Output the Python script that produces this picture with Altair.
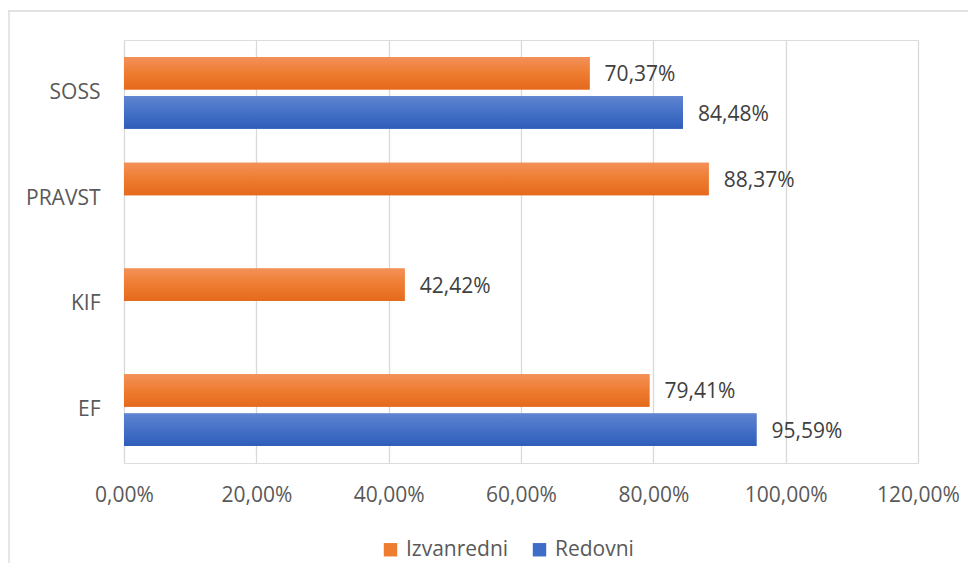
import altair as alt
import pandas as pd

categories = ["SOSS", "SOSS", "PRAVST", "KIF", "EF", "EF"]
series = ["Izvanredni", "Redovni", "Izvanredni", "Izvanredni", "Izvanredni", "Redovni"]
values = [0.7037, 0.8448, 0.8837, 0.4242, 0.7941, 0.9559]

cat_order = ["SOSS", "PRAVST", "KIF", "EF"]
series_order = ["Izvanredni", "Redovni"]
x_ticks = [0, 0.2, 0.4, 0.6, 0.8, 1.0, 1.2]

df = pd.DataFrame({"cat": categories, "series": series, "value": values})

FONT = "Open Sans"
FS = 21

orange_grad = alt.Gradient(
    gradient="linear", x1=0, x2=0, y1=0, y2=1,
    stops=[alt.GradientStop(color="#F39159", offset=0),
           alt.GradientStop(color="#EE7C30", offset=0.5),
           alt.GradientStop(color="#E5691C", offset=1)],
)
blue_grad = alt.Gradient(
    gradient="linear", x1=0, x2=0, y1=0, y2=1,
    stops=[alt.GradientStop(color="#5F84D0", offset=0),
           alt.GradientStop(color="#4470C6", offset=0.5),
           alt.GradientStop(color="#2E5DBA", offset=1)],
)

y_enc = alt.Y("cat:N", sort=cat_order,
              scale=alt.Scale(domain=cat_order, paddingInner=0.32, paddingOuter=0.16),
              axis=alt.Axis(title=None, domain=False, ticks=False, labelPadding=24,
                            labelFontSize=FS, labelColor="#595959", labelFont=FONT))
yoff_enc = alt.YOffset("series:N", sort=series_order,
                       scale=alt.Scale(domain=series_order, paddingInner=0.17, paddingOuter=0))
x_enc = alt.X("value:Q",
              scale=alt.Scale(domain=[0, 1.2], nice=False),
              axis=alt.Axis(title=None, values=x_ticks, domain=False, ticks=False,
                            grid=True, gridColor="#D9D9D9", gridWidth=1.3,
                            labelFlush=False,
                            labelPadding=21, labelFontSize=FS, labelColor="#595959",
                            labelFont=FONT,
                            labelExpr="replace(format(datum.value*100, '.2f'), '.', ',') + '%'"))

base = alt.Chart(df)

solid = base.mark_bar().encode(
    x=x_enc, y=y_enc, yOffset=yoff_enc,
    color=alt.Color("series:N", sort=series_order,
                    scale=alt.Scale(domain=series_order, range=["#EE7D31", "#3F6CC6"]),
                    legend=alt.Legend(title=None, orient="none", direction="horizontal",
                                      legendX=256, legendY=499, symbolType="square",
                                      symbolSize=180, symbolStrokeWidth=0,
                                      labelFontSize=FS, labelColor="#595959", labelFont=FONT,
                                      labelOffset=5, columnPadding=20)),
)

grad_o = base.transform_filter(alt.datum.series == "Izvanredni").mark_bar(color=orange_grad).encode(
    x="value:Q", y="cat:N", yOffset="series:N")
grad_b = base.transform_filter(alt.datum.series == "Redovni").mark_bar(color=blue_grad).encode(
    x="value:Q", y="cat:N", yOffset="series:N")

labels = base.transform_calculate(
    lbl="replace(format(datum.value*100, '.2f'), '.', ',') + '%'"
).mark_text(align="left", baseline="middle", dx=15, dy=2, fontSize=FS, color="#404040", font=FONT).encode(
    x="value:Q", y="cat:N", yOffset="series:N", text="lbl:N")

frame_data = pd.DataFrame({"k": [0]})
top_line = alt.Chart(frame_data).mark_rule(color="#D9D9D9", strokeWidth=1.3).encode(
    x=alt.value(-116), x2=alt.value(900), y=alt.value(-29))
left_line = alt.Chart(frame_data).mark_rule(color="#D9D9D9", strokeWidth=1.3).encode(
    x=alt.value(-115), y=alt.value(-29), y2=alt.value(560))

chart = alt.layer(top_line, left_line, solid, grad_o, grad_b, labels).properties(
    width=794, height=423,
    autosize=alt.AutoSizeParams(type="none"),
    padding={"left": 116, "top": 32, "right": 50, "bottom": 100},
).configure_view(stroke=None).configure(background="white")

chart.save("out.html", embed_options={"renderer": "svg", "actions": False})
